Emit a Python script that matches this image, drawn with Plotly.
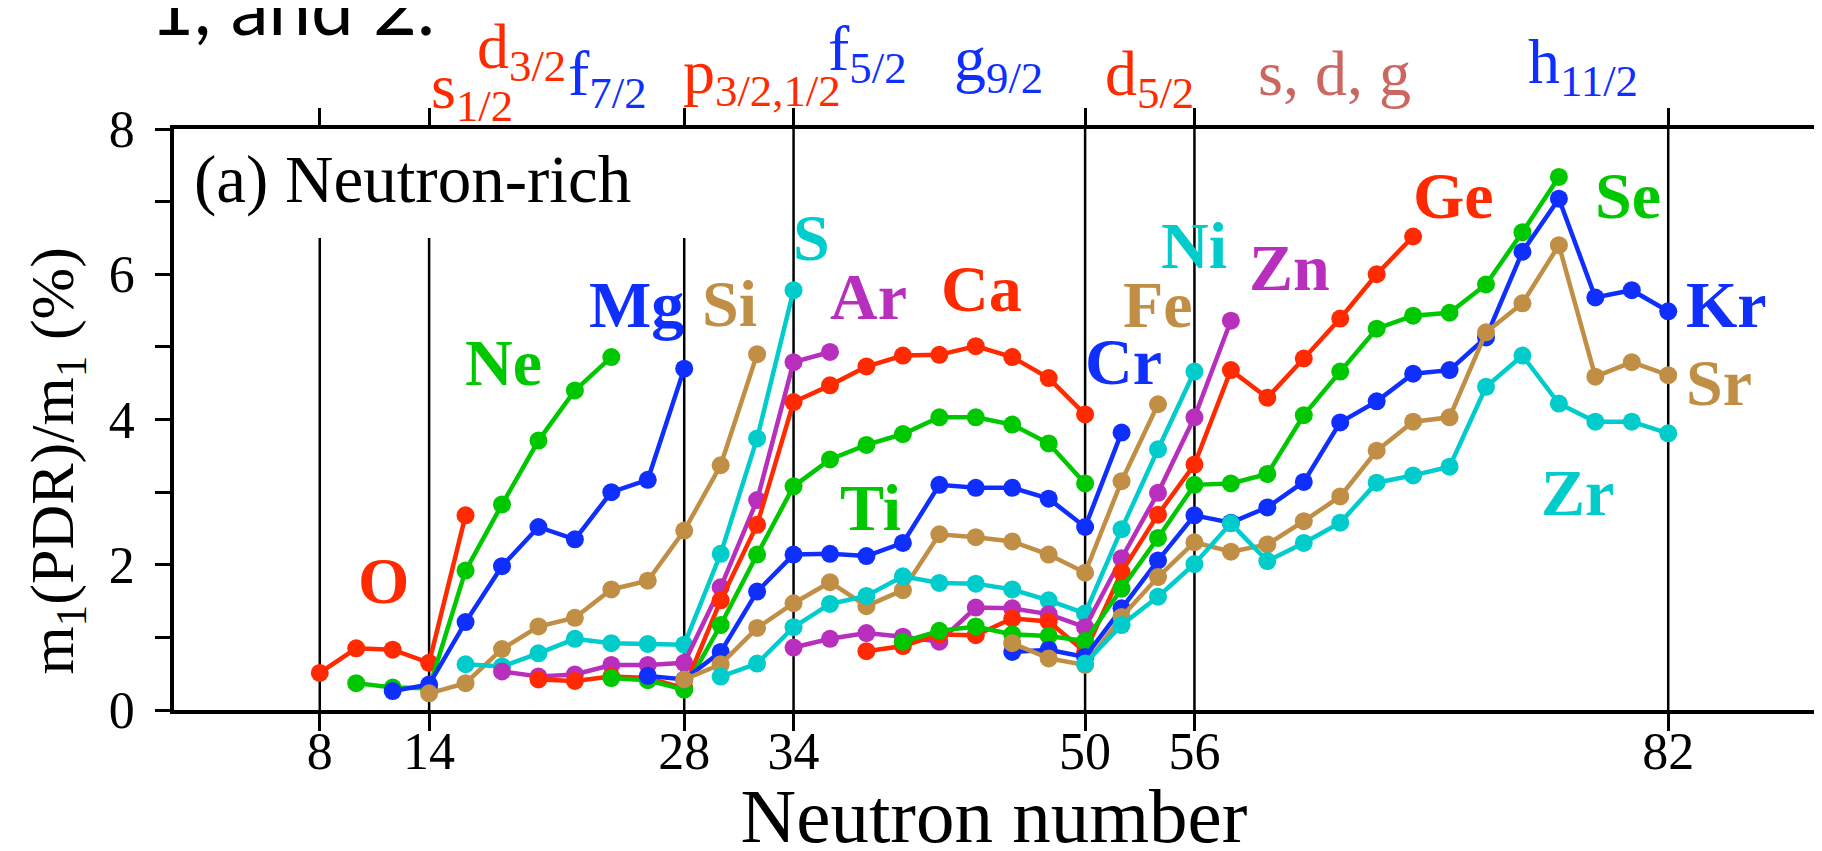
import plotly.graph_objects as go

# ---------------- data ----------------
RED = "#ff2a00"
BLUE = "#0f2fff"
GREEN = "#00c800"
CYAN = "#00cccc"
PURPLE = "#b92fbd"
TAN = "#c08f45"
SDG = "#cc6660"

O_N = [8, 10, 12, 14, 16]
O_V = [0.51, 0.85, 0.83, 0.65, 2.68]

Ne_N = [10, 12, 14, 16, 18, 20, 22, 24]
Ne_V = [0.37, 0.31, 0.30, 1.92, 2.83, 3.71, 4.40, 4.86]

Mg_N = [12, 14, 16, 18, 20, 22, 24, 26, 28]
Mg_V = [0.26, 0.35, 1.21, 1.98, 2.52, 2.35, 3.00, 3.17, 4.70]

Si_N = [14, 16, 18, 20, 22, 24, 26, 28, 30, 32]
Si_V = [0.23, 0.37, 0.84, 1.15, 1.27, 1.66, 1.78, 2.47, 3.37, 4.90]

S_N = [16, 18, 20, 22, 24, 26, 28, 30, 32, 34]
S_V = [0.63, 0.60, 0.78, 0.98, 0.92, 0.91, 0.90, 2.15, 3.74, 5.78]

Ar_N = [18, 20, 22, 24, 26, 28, 30, 32, 34, 36]
Ar_V = [0.53, 0.46, 0.49, 0.62, 0.62, 0.65, 1.69, 2.89, 4.79, 4.93]

Ca_N = [20, 22, 24, 26, 28, 30, 32, 34, 36, 38, 40, 42, 44, 46, 48, 50]
Ca_V = [0.42, 0.40, 0.46, 0.44, 0.30, 1.51, 2.55, 4.24, 4.47, 4.73, 4.88, 4.89,
        5.01, 4.86, 4.57, 4.07]

Ti_N = [24, 26, 28, 30, 32, 34, 36, 38, 40, 42, 44, 46, 48, 50]
Ti_V = [0.44, 0.41, 0.28, 1.17, 2.14, 3.08, 3.45, 3.65, 3.80, 4.03, 4.03, 3.93,
        3.67, 3.12]

Cr_N = [26, 28, 30, 32, 34, 36, 38, 40, 42, 44, 46, 48, 50, 52]
Cr_V = [0.47, 0.42, 0.80, 1.63, 2.14, 2.15, 2.12, 2.30, 3.10, 3.06, 3.06, 2.91,
        2.52, 3.82]

Fe_N = [28, 30, 32, 34, 36, 38, 40, 42, 44, 46, 48, 50, 52, 54]
Fe_V = [0.42, 0.63, 1.13, 1.47, 1.76, 1.43, 1.65, 2.42, 2.38, 2.32, 2.14, 1.89,
        3.15, 4.21]

Ni_N = [30, 32, 34, 36, 38, 40, 42, 44, 46, 48, 50, 52, 54, 56]
Ni_V = [0.46, 0.64, 1.14, 1.46, 1.57, 1.84, 1.75, 1.74, 1.66, 1.51, 1.33, 2.49,
        3.59, 4.66]

Zn_N = [34, 36, 38, 40, 42, 44, 46, 48, 50, 52, 54, 56, 58]
Zn_V = [0.86, 0.98, 1.06, 1.01, 0.94, 1.41, 1.40, 1.32, 1.14, 2.09, 2.99, 4.03,
        5.36]

Ge_N = [38, 40, 42, 44, 46, 48, 50, 52, 54, 56, 58, 60, 62, 64, 66, 68]
Ge_V = [0.81, 0.88, 1.04, 1.03, 1.26, 1.22, 0.80, 1.90, 2.69, 3.38, 4.68, 4.30,
        4.84, 5.39, 6.00, 6.52]

Se_N = [40, 42, 44, 46, 48, 50, 52, 54, 56, 58, 60, 62, 64, 66, 68, 70, 72, 74, 76]
Se_V = [0.94, 1.09, 1.15, 1.04, 1.02, 0.95, 1.67, 2.37, 3.10, 3.12, 3.25, 4.06,
        4.66, 5.25, 5.43, 5.47, 5.86, 6.58, 7.34]

Kr_N = [46, 48, 50, 52, 54, 56, 58, 60, 62, 64, 66, 68, 70, 72, 74, 76, 78, 80, 82]
Kr_V = [0.80, 0.83, 0.73, 1.40, 2.06, 2.68, 2.58, 2.79, 3.14, 3.96, 4.25, 4.63,
        4.68, 5.13, 6.31, 7.04, 5.68, 5.78, 5.49]

Sr_N = [46, 48, 50, 52, 54, 56, 58, 60, 62, 64, 66, 68, 70, 72, 74, 76, 78, 80, 82]
Sr_V = [0.92, 0.71, 0.62, 1.28, 1.83, 2.31, 2.18, 2.28, 2.60, 2.94, 3.57, 3.97,
        4.03, 5.20, 5.60, 6.40, 4.59, 4.79, 4.61]

Zr_N = [50, 52, 54, 56, 58, 60, 62, 64, 66, 68, 70, 72, 74, 76, 78, 80, 82]
Zr_V = [0.64, 1.17, 1.56, 2.01, 2.57, 2.05, 2.30, 2.58, 3.13, 3.23, 3.35, 4.45,
        4.88, 4.22, 3.97, 3.97, 3.81]

series = [
    ("O", O_N, O_V, RED), ("Ne", Ne_N, Ne_V, GREEN), ("Mg", Mg_N, Mg_V, BLUE),
    ("Si", Si_N, Si_V, TAN), ("S", S_N, S_V, CYAN), ("Ar", Ar_N, Ar_V, PURPLE),
    ("Ca", Ca_N, Ca_V, RED), ("Ti", Ti_N, Ti_V, GREEN), ("Cr", Cr_N, Cr_V, BLUE),
    ("Fe", Fe_N, Fe_V, TAN), ("Ni", Ni_N, Ni_V, CYAN), ("Zn", Zn_N, Zn_V, PURPLE),
    ("Ge", Ge_N, Ge_V, RED), ("Se", Se_N, Se_V, GREEN), ("Kr", Kr_N, Kr_V, BLUE),
    ("Sr", Sr_N, Sr_V, TAN), ("Zr", Zr_N, Zr_V, CYAN),
]

# magic-number reference lines
magic_N = [8, 14, 28, 34, 50, 56, 82]
magic_top = [6.5, 6.5, 6.5, 8, 8, 8, 8]
x_tick_labels = ["8", "14", "28", "34", "50", "56", "82"]

y_tick_vals = [0, 1, 2, 3, 4, 5, 6, 7, 8]
y_tick_text = ["0", "", "2", "", "4", "", "6", "", "8"]

# element labels (name, N, value of label centre)
label_name = ["O", "Ne", "Mg", "Si", "S", "Ar", "Ca", "Ti", "Cr", "Fe", "Ni",
              "Zn", "Ge", "Se", "Kr", "Sr", "Zr"]
label_N = [11.5, 18.1, 25.4, 30.5, 35.0, 38.1, 44.3, 38.2, 52.1, 54.0, 56.0,
           61.2, 70.2, 79.8, 85.2, 84.8, 77.0]
label_V = [1.78, 4.79, 5.59, 5.60, 6.50, 5.70, 5.80, 2.79, 4.80, 5.58, 6.40,
           6.09, 7.09, 7.09, 5.58, 4.51, 3.00]
label_color = [RED, GREEN, BLUE, TAN, CYAN, PURPLE, RED, GREEN, BLUE, TAN, CYAN,
               PURPLE, RED, GREEN, BLUE, TAN, CYAN]

# single-particle orbit labels above the frame
shell_text = ["s<sub>1/2</sub>", "d<sub>3/2</sub>", "f<sub>7/2</sub>",
              "p<sub>3/2,1/2</sub>", "f<sub>5/2</sub>", "g<sub>9/2</sub>",
              "d<sub>5/2</sub>", "s, d, g", "h<sub>11/2</sub>"]
shell_N = [14.0, 16.5, 21.5, 27.8, 35.8, 42.7, 51.0, 59.4, 74.2]
shell_baseline_px = [98, 58, 85, 83, 60, 70, 85, 85, 73]
shell_color = [RED, RED, BLUE, RED, BLUE, BLUE, RED, SDG, BLUE]

# ---------------- figure ----------------
W, H = 1822, 851
L, R, T, B = 166, 16, 121, 149
plot_h = H - T - B
SERIF = "Liberation Serif, Times New Roman, serif"

fig = go.Figure()

mx, my = [], []
for n, top in zip(magic_N, magic_top):
    mx += [n, n, None]
    my += [0, top, None]
fig.add_trace(go.Scatter(x=mx, y=my, mode="lines", line=dict(color="black", width=2.5),
                         hoverinfo="skip", showlegend=False))

for name, xs, ys, col in series:
    fig.add_trace(go.Scatter(x=xs, y=ys, mode="lines+markers", name=name,
                             line=dict(color=col, width=4.5),
                             marker=dict(color=col, size=18),
                             showlegend=False))

ann = []
for t, n, v, c in zip(label_name, label_N, label_V, label_color):
    ann.append(dict(x=n, y=v, xref="x", yref="y", text=t, showarrow=False,
                    xanchor="center", yanchor="middle",
                    font=dict(family=SERIF, size=66, color=c, weight="bold")))

F_SHELL = 64
for t, n, bl, c in zip(shell_text, shell_N, shell_baseline_px, shell_color):
    top_px = bl - 0.891 * F_SHELL
    ann.append(dict(x=n, y=(H - B - top_px) / plot_h, xref="x", yref="paper",
                    text=t, showarrow=False, xanchor="left", yanchor="top",
                    font=dict(family=SERIF, size=F_SHELL, color=c)))

ann.append(dict(x=1.0, y=7.31, xref="x", yref="y", text="(a) Neutron-rich",
                showarrow=False, xanchor="left", yanchor="middle",
                font=dict(family=SERIF, size=67, color="black")))

ann.append(dict(x=(49 - L) / (W - L - R), y=3.42, xref="paper", yref="y",
                text="m<sub>1</sub>(PDR)/m<sub>1</sub> (%)", textangle=-90,
                showarrow=False, xanchor="center", yanchor="middle",
                font=dict(family=SERIF, size=62, color="black")))

ann.append(dict(x=(140 - L) / (W - L - R), y=(H - B - 45) / plot_h, xref="paper",
                yref="paper", text="1, and 2.", showarrow=False,
                xanchor="left", yanchor="bottom",
                font=dict(family="Lato, Open Sans, sans-serif", size=76, color="black")))

fig.update_layout(
    width=W, height=H,
    margin=dict(l=L, r=R, t=T, b=B, autoexpand=False),
    paper_bgcolor="white", plot_bgcolor="white",
    showlegend=False,
    annotations=ann,
    xaxis=dict(range=[0, 90], tickvals=magic_N, ticktext=x_tick_labels,
               ticks="outside", ticklen=17, tickwidth=2.5, tickcolor="black",
               showline=True, linecolor="black", linewidth=4, mirror="ticks",
               showgrid=False, zeroline=False, ticklabelstandoff=-24,
               tickfont=dict(family=SERIF, size=52, color="black"),
               title=dict(text="Neutron number", standoff=30,
                          font=dict(family=SERIF, size=77, color="black"))),
    yaxis=dict(range=[0, 8], tickvals=y_tick_vals, ticktext=y_tick_text,
               ticks="outside", ticklen=15, tickwidth=2.5, tickcolor="black",
               showline=True, linecolor="black", linewidth=3.5, mirror="ticks",
               showgrid=False, zeroline=False, ticklabelstandoff=10,
               tickfont=dict(family=SERIF, size=52, color="black")),
)

fig.write_html("out.html")
